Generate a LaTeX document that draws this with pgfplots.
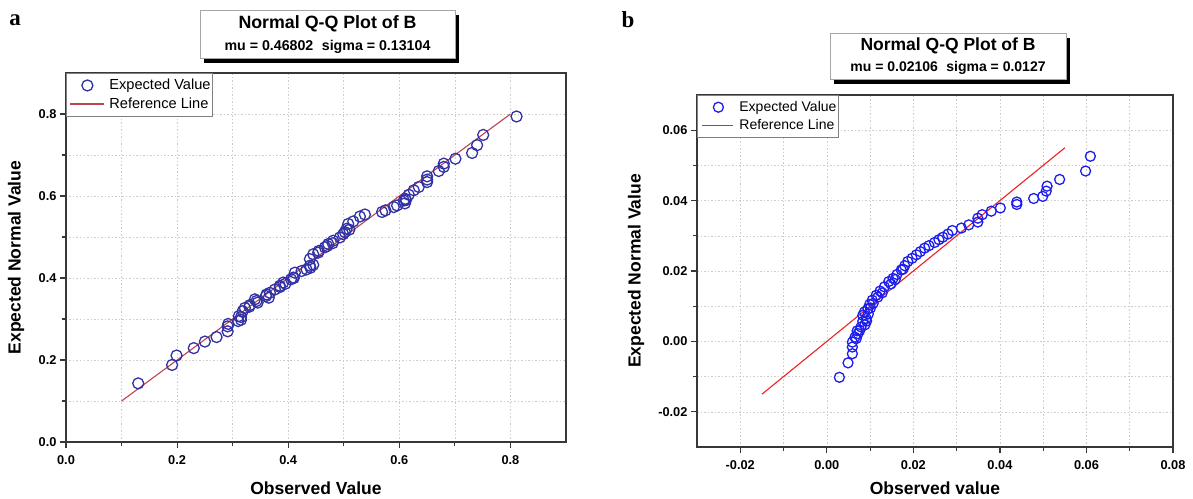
\documentclass[border=0pt]{standalone}
\usepackage{fontspec}
\setmainfont{Liberation Sans}
\newfontfamily\serifbold{Liberation Serif}
\usepackage{pgfplots}
\pgfplotsset{compat=1.18}

\definecolor{markA}{RGB}{50,50,165}
\definecolor{lineA}{RGB}{185,70,80}
\definecolor{markB}{RGB}{30,30,235}
\definecolor{lineB}{RGB}{235,35,35}
\definecolor{axcol}{RGB}{55,55,55}

\pgfplotsset{
  legmarkA/.style={legend image code/.code={\path[draw=none] (0pt,0pt) (41pt,0pt); \draw[##1] plot coordinates {(21pt,0pt)};}},
  leglineA/.style={legend image code/.code={\path[draw=none] (0pt,0pt) (41pt,0pt); \draw[lineA, line width=1.2pt] (4pt,0pt) -- (38pt,0pt);}},
  legmarkB/.style={legend image code/.code={\path[draw=none] (0pt,0pt) (40pt,0pt); \draw[##1] plot coordinates {(21pt,0pt)};}},
  leglineB/.style={legend image code/.code={\path[draw=none] (0pt,0pt) (40pt,0pt); \draw[lineB, line width=1.2pt] (5pt,0pt) -- (36pt,0pt);}},
  qq/.style={
    scale only axis,
    anchor=south west,
    axis line style={axcol, line width=1.6pt},
    tick align=outside,
    tick pos=left,
    major tick length=6pt,
    minor tick length=4pt,
    every tick/.style={axcol, line width=1.2pt},
    minor tick num=1,
    grid=both,
    major grid style={gray!40, line width=0.6pt, dash pattern=on 1.5pt off 2pt},
    minor grid style={gray!40, line width=0.6pt, dash pattern=on 1.5pt off 2pt},
    tick label style={font=\bfseries\fontsize{12.8}{15}\selectfont},
    xticklabel style={yshift=-4pt},
    /pgf/number format/assume math mode=true,
    label style={font=\bfseries\fontsize{17.5}{20}\selectfont},
    legend style={at={(0,1)}, anchor=north west, draw=gray, line width=0.8pt,
      inner xsep=0pt, inner ysep=4pt, row sep=2.5pt},
    legend cell align=left,
  },
}

\begin{document}
\begin{tikzpicture}[x=1pt,y=1pt]
\useasboundingbox (0,0) rectangle (1193,-498);

% panel letters
\node[font=\serifbold\bfseries\fontsize{23}{26}\selectfont] at (15,-20) {a};
\node[font=\serifbold\bfseries\fontsize{23}{26}\selectfont] at (628,-20) {b};

% title box a
\fill[black] (204,-15) rectangle (459,-63);
\filldraw[fill=white, draw=gray!70, line width=0.6pt] (200,-10) rectangle (455,-58);
\node[font=\bfseries\fontsize{17.8}{20}\selectfont] at (327.5,-23.5) {Normal Q-Q Plot of B};
\node[font=\bfseries\fontsize{14.2}{16}\selectfont] at (327.5,-46.5) {mu = 0.46802\hspace{0.6em}sigma = 0.13104};

% title box b
\fill[black] (834,-38) rectangle (1070,-84);
\filldraw[fill=white, draw=gray!70, line width=0.6pt] (830,-33) rectangle (1066,-79);
\node[font=\bfseries\fontsize{17.5}{20}\selectfont] at (948,-46) {Normal Q-Q Plot of B};
\node[font=\bfseries\fontsize{14}{16}\selectfont] at (948,-68) {mu = 0.02106\hspace{0.6em}sigma = 0.0127};

% ---------------- panel a ----------------
\begin{axis}[qq,
  at={(66pt,-442pt)}, width=500pt, height=369pt,
  xmin=0, xmax=0.9, ymin=0, ymax=0.9,
  xtick={0,0.2,0.4,0.6,0.8}, ytick={0,0.2,0.4,0.6,0.8},
  /pgf/number format/.cd, fixed, fixed zerofill, precision=1, /pgfplots/.cd,
  xlabel={Observed Value}, ylabel={Expected Normal Value},
  xlabel style={at={(axis description cs:0.5,-0.125)}, anchor=center},
  ylabel style={at={(axis description cs:-0.1,0.5)}, anchor=center},
  legend style={font=\fontsize{14.6}{17}\selectfont},
]
\addplot[only marks, mark=o, mark size=5.5pt, markA, mark options={line width=1.3pt}, legmarkA]
coordinates {
(0.130,0.143) (0.191,0.188) (0.199,0.211) (0.230,0.229) (0.250,0.245)
(0.271,0.256) (0.291,0.270) (0.291,0.282) (0.292,0.288) (0.310,0.295)
(0.311,0.307) (0.318,0.319) (0.322,0.327) (0.331,0.334) (0.340,0.348)
(0.343,0.344) (0.361,0.360) (0.367,0.364) (0.376,0.372) (0.385,0.381)
(0.391,0.389) (0.409,0.401) (0.412,0.413) (0.424,0.417) (0.433,0.421)
(0.439,0.430) (0.439,0.446) (0.445,0.458) (0.454,0.462) (0.466,0.475)
(0.472,0.483) (0.481,0.491) (0.493,0.499) (0.499,0.507) (0.505,0.520)
(0.508,0.532) (0.517,0.538) (0.529,0.550) (0.538,0.555) (0.569,0.561)
(0.575,0.565) (0.590,0.573) (0.596,0.577) (0.608,0.589) (0.611,0.593)
(0.617,0.603) (0.626,0.614) (0.635,0.622) (0.650,0.634) (0.650,0.648)
(0.671,0.661) (0.680,0.671) (0.680,0.679) (0.701,0.691) (0.731,0.705)
(0.740,0.724) (0.751,0.749) (0.811,0.794)
(0.405,0.397) (0.410,0.400) (0.440,0.425) (0.445,0.432) (0.360,0.356)
(0.365,0.352) (0.315,0.298) (0.315,0.305) (0.502,0.512) (0.510,0.518)
(0.610,0.582) (0.612,0.590) (0.650,0.640) (0.470,0.478) (0.480,0.485)
(0.455,0.466) (0.385,0.378) (0.395,0.386) (0.330,0.330) (0.345,0.340)
};
\addlegendentry{Expected Value}
\addplot[lineA, line width=1.1pt, leglineA]
coordinates {(0.1,0.1) (0.8,0.8)};
\addlegendentry{Reference Line}
\end{axis}

% ---------------- panel b ----------------
\begin{axis}[qq,
  at={(697pt,-447pt)}, width=476pt, height=352pt,
  xmin=-0.03, xmax=0.08, ymin=-0.03, ymax=0.07,
  xtick={-0.02,0,0.02,0.04,0.06,0.08}, ytick={-0.02,0,0.02,0.04,0.06},
  scaled ticks=false,
  /pgf/number format/.cd, fixed, fixed zerofill, precision=2, /pgfplots/.cd,
  xlabel={Observed value}, ylabel={Expected Normal Value},
  xlabel style={at={(axis description cs:0.5,-0.118)}, anchor=center},
  ylabel style={at={(axis description cs:-0.128,0.5)}, anchor=center},
  legend style={font=\fontsize{14}{17}\selectfont},
]
\addplot[only marks, mark=o, mark size=5pt, markB, mark options={line width=1.3pt}, legmarkB]
coordinates {
(0.0029,-0.0102) (0.0049,-0.0061) (0.0059,-0.0035) (0.0059,-0.0016) (0.0059,-0.0002)
(0.0068,0.0008) (0.0072,0.0022) (0.0076,0.0031) (0.0079,0.0041) (0.0083,0.0057)
(0.0083,0.0074) (0.0087,0.0084) (0.0091,0.0065) (0.0095,0.0093) (0.0099,0.0105)
(0.0105,0.0117) (0.0114,0.0131) (0.0123,0.0143) (0.0133,0.0155) (0.0143,0.0170)
(0.0153,0.0179) (0.0162,0.0190) (0.0172,0.0203) (0.0180,0.0215) (0.0187,0.0227)
(0.0197,0.0236) (0.0207,0.0246) (0.0216,0.0255) (0.0226,0.0265) (0.0236,0.0272)
(0.0249,0.0281) (0.0259,0.0289) (0.0268,0.0296) (0.0280,0.0305) (0.0290,0.0315)
(0.0311,0.0322) (0.0328,0.0331) (0.0349,0.0339) (0.0349,0.0350) (0.0359,0.0360)
(0.0380,0.0370) (0.0401,0.0379) (0.0439,0.0389) (0.0439,0.0396) (0.0478,0.0406)
(0.0499,0.0412) (0.0507,0.0427) (0.0509,0.0441) (0.0538,0.0460) (0.0598,0.0484)
(0.0609,0.0526)
(0.0088,0.0047) (0.0092,0.0058) (0.0096,0.0078) (0.0101,0.0095) (0.0107,0.0108)
(0.0118,0.0126) (0.0128,0.0138) (0.0148,0.0163) (0.0158,0.0176) (0.0176,0.0205)
(0.0065,0.0012) (0.0070,0.0030)
};
\addlegendentry{Expected Value}
\addplot[lineB, line width=1.1pt, leglineB]
coordinates {(-0.015,-0.015) (0.055,0.055)};
\addlegendentry{Reference Line}
\end{axis}
\end{tikzpicture}
\end{document}
